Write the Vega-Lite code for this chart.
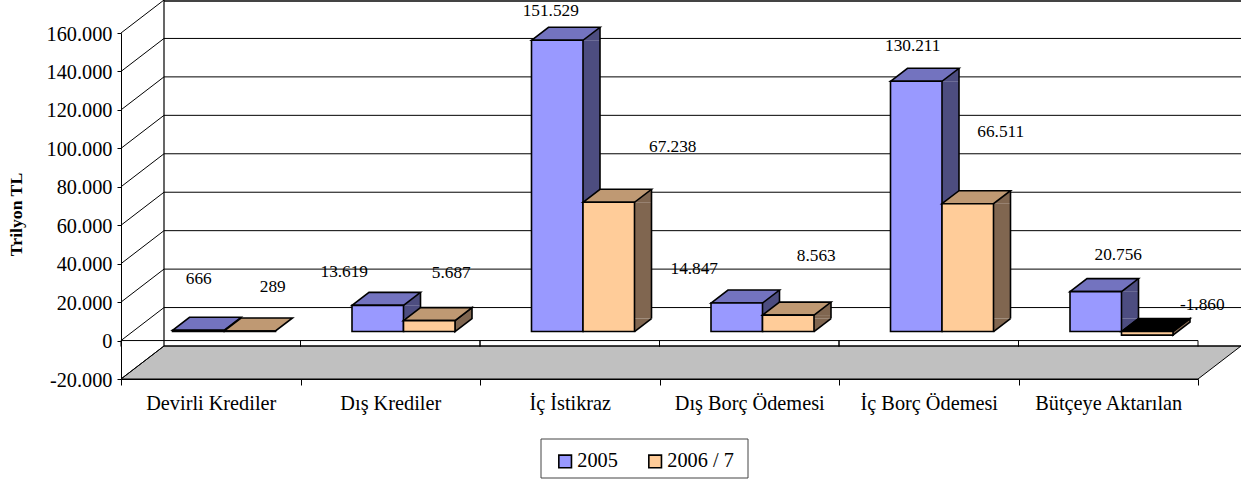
{"$schema":"https://vega.github.io/schema/vega-lite/v6.json","width":1077,"height":346,"autosize":{"type":"none"},"padding":{"left":121,"top":33,"right":46,"bottom":102},"background":"white",
"config":{"locale":{"number":{"decimal":",","thousands":".","grouping":[3],"currency":["",""],"minus":"-"}},"view":{"stroke":null},"text":{"font":"Liberation Serif"}},
"datasets":{"bars":[
{"cat":"Devirli Krediler","series":"2005","value":666},{"cat":"Devirli Krediler","series":"2006 / 7","value":289},
{"cat":"Dış Krediler","series":"2005","value":13619},{"cat":"Dış Krediler","series":"2006 / 7","value":5687},
{"cat":"İç İstikraz","series":"2005","value":151529},{"cat":"İç İstikraz","series":"2006 / 7","value":67238},
{"cat":"Dış Borç Ödemesi","series":"2005","value":14847},{"cat":"Dış Borç Ödemesi","series":"2006 / 7","value":8563},
{"cat":"İç Borç Ödemesi","series":"2005","value":130211},{"cat":"İç Borç Ödemesi","series":"2006 / 7","value":66511},
{"cat":"Bütçeye Aktarılan","series":"2005","value":20756},{"cat":"Bütçeye Aktarılan","series":"2006 / 7","value":-1860}],
"grid":[{"v":-20000},{"v":0},{"v":20000},{"v":40000},{"v":60000},{"v":80000},{"v":100000},{"v":120000},{"v":140000},{"v":160000}]},
"encoding":{
"x":{"field":"cat","type":"nominal","sort":null,"scale":{"domain":["Devirli Krediler","Dış Krediler","İç İstikraz","Dış Borç Ödemesi","İç Borç Ödemesi","Bütçeye Aktarılan"],"paddingInner":0,"paddingOuter":0},"axis":{"title":null,"labelAngle":0,"labelFont":"Liberation Serif","labelFontSize":20.3,"labelColor":"#000","tickColor":"#000","domainColor":"#000","tickSize":6,"tickBand":"extent","labelPadding":8,"grid":false}},
"y":{"field":"value","type":"quantitative","scale":{"domain":[-20000,160000],"nice":false,"zero":false},"axis":{"title":"Trilyon TL","titleFont":"Liberation Serif","titleFontSize":17.7,"titleFontWeight":"bold","titleColor":"#000","titleX":-96,"titleY":181,"values":[-20000,0,20000,40000,60000,80000,100000,120000,140000,160000],"format":",d","labelFont":"Liberation Serif","labelFontSize":20.3,"labelColor":"#000","labelOffset":1,"tickColor":"#000","domainColor":"#000","tickSize":4,"labelPadding":5,"grid":false}}
},
"layer":[
{"data":{"values":[{"cat":"Devirli Krediler","value":-20000}]},"mark":{"type":"point","shape":"M330.25,60L537.25,60L537.25,99L330.25,99Z","size":4,"filled":true,"fill":"#fff","stroke":"#444","strokeWidth":1,"opacity":1}},
{"data":{"values":[{"cat":"Devirli Krediler","value":-20000}]},"mark":{"type":"point","shape":"M-89.75,0L987.25,0L1030.25,-33L-46.75,-33Z","size":4,"filled":true,"fill":"#C0C0C0","stroke":"#000","strokeWidth":1,"opacity":1}},
{"data":{"name":"grid"},"mark":{"type":"point","shape":"M-89.75,0L-46.75,-33L1030.25,-33","size":4,"filled":false,"stroke":"#000","strokeWidth":1,"opacity":1},"encoding":{"x":{"datum":"Devirli Krediler"},"y":{"field":"v","type":"quantitative"}}},
{"data":{"name":"grid"},"transform":[{"filter":"datum.v==160000"}],"mark":{"type":"point","shape":"M-46.75,-33L1030.25,-33","size":4,"filled":false,"stroke":"#444","strokeWidth":4,"opacity":1},"encoding":{"x":{"datum":"Devirli Krediler"},"y":{"field":"v","type":"quantitative"}}},
{"data":{"values":[{"cat":"Devirli Krediler","value":-20000}]},"mark":{"type":"point","shape":"M-46.75,-33V-379","size":4,"filled":false,"stroke":"#000","strokeWidth":1.2,"opacity":1}},
{"data":{"values":[{"cat":"Devirli Krediler","value":0}]},"mark":{"type":"point","shape":"M-89.75,0L987.25,0","size":4,"filled":false,"stroke":"#000","strokeWidth":1,"opacity":1}},
{"data":{"name":"bars"},"transform":[{"filter":"datum.series=='2005'"}],"mark":{"type":"point","shape":"M-89.75,0V6M89.75,0V6","size":4,"filled":false,"stroke":"#000","strokeWidth":1,"opacity":1},"encoding":{"y":{"datum":0}}},

{"data":{"name":"bars"},"transform":[{"filter":"datum.series=='2005' && datum.value>=6770"}],"mark":{"type":"rule","strokeWidth":17,"color":"#4D4D80","xOffset":21.75,"yOffset":-9,"y2Offset":-22},"encoding":{"y2":{"datum":0}}},
{"data":{"name":"bars"},"transform":[{"filter":"datum.series=='2005' && datum.value>=6770"}],"mark":{"type":"point","shape":"M25.75,0L42.75,-13L42.75,0Z","size":4,"filled":true,"fill":"#4D4D80","opacity":1,"xOffset":-12.5,"yOffset":-9}},
{"data":{"name":"bars"},"transform":[{"filter":"datum.series=='2005' && datum.value>=6770"}],"mark":{"type":"point","shape":"M25.75,0L25.75,-13L42.75,-13Z","size":4,"filled":true,"fill":"#4D4D80","opacity":1,"xOffset":-12.5,"yOffset":-9},"encoding":{"y":{"datum":0}}},
{"data":{"name":"bars"},"transform":[{"filter":"datum.series=='2005' && datum.value>=6770"}],"mark":{"type":"rule","strokeWidth":1.6,"color":"#000","xOffset":30.25,"yOffset":-22,"y2Offset":-22},"encoding":{"y2":{"datum":0}}},
{"data":{"name":"bars"},"transform":[{"filter":"datum.series=='2005'"}],"mark":{"type":"point","shape":"M25.75,0L42.75,-13","size":4,"filled":false,"stroke":"#000","strokeWidth":1.6,"opacity":1,"xOffset":-12.5,"yOffset":-9},"encoding":{"y":{"datum":0}}},
{"data":{"name":"bars"},"transform":[{"filter":"datum.series=='2005'"}],"mark":{"type":"point","shape":"M-25.75,0L-8.75,-13L42.75,-13L25.75,0Z","size":4,"filled":true,"fill":"#7373BF","stroke":"#000","strokeWidth":1.6,"opacity":1,"xOffset":-12.5,"yOffset":-9}},
{"data":{"name":"bars"},"transform":[{"filter":"datum.series=='2005'"}],"mark":{"type":"bar","width":51.5,"stroke":"#000","strokeWidth":1.6,"xOffset":-12.5,"yOffset":-9,"y2Offset":-9},"encoding":{"y2":{"datum":0},"fill":{"field":"series","type":"nominal","scale":{"domain":["2005","2006 / 7"],"range":["#9999FF","#FFCC99"]},"legend":{"title":null,"orient":"none","legendX":434,"legendY":418,"direction":"horizontal","columns":2,"columnPadding":27,"symbolType":"square","symbolSize":160,"symbolStrokeColor":"#000","symbolStrokeWidth":1.6,"labelFont":"Liberation Serif","labelFontSize":20.3,"labelColor":"#000","labelOffset":2,"padding":0,"symbolOpacity":1}}}},

{"data":{"name":"bars"},"transform":[{"filter":"datum.series=='2006 / 7' && datum.value>=6770"}],"mark":{"type":"rule","strokeWidth":17,"color":"#806650","xOffset":73.25,"yOffset":-9,"y2Offset":-22},"encoding":{"y2":{"datum":0}}},
{"data":{"name":"bars"},"transform":[{"filter":"datum.series=='2006 / 7' && datum.value>=6770"}],"mark":{"type":"point","shape":"M25.75,0L42.75,-13L42.75,0Z","size":4,"filled":true,"fill":"#806650","opacity":1,"xOffset":39,"yOffset":-9}},
{"data":{"name":"bars"},"transform":[{"filter":"datum.series=='2006 / 7' && datum.value>=6770"}],"mark":{"type":"point","shape":"M25.75,0L25.75,-13L42.75,-13Z","size":4,"filled":true,"fill":"#806650","opacity":1,"xOffset":39,"yOffset":-9},"encoding":{"y":{"datum":0}}},
{"data":{"name":"bars"},"transform":[{"filter":"datum.series=='2006 / 7' && datum.value>=6770"}],"mark":{"type":"rule","strokeWidth":1.6,"color":"#000","xOffset":81.75,"yOffset":-22,"y2Offset":-22},"encoding":{"y2":{"datum":0}}},
{"data":{"name":"bars"},"transform":[{"filter":"datum.series=='2006 / 7' && datum.value>=6770"}],"mark":{"type":"point","shape":"M25.75,0L42.75,-13","size":4,"filled":false,"stroke":"#000","strokeWidth":1.6,"opacity":1,"xOffset":39,"yOffset":-9},"encoding":{"y":{"datum":0}}},
{"data":{"name":"bars"},"transform":[{"filter":"datum.value==5687"}],"mark":{"type":"point","shape":"M25.75,0L42.75,-13L42.75,-24L25.75,-11Z","size":4,"filled":true,"fill":"#806650","stroke":"#000","strokeWidth":1.6,"opacity":1,"xOffset":39,"yOffset":-9},"encoding":{"y":{"datum":0}}},
{"data":{"name":"bars"},"transform":[{"filter":"datum.value==-1860"}],"mark":{"type":"point","shape":"M25.75,3.5L42.75,-9.5L42.75,-13L25.75,0Z","size":4,"filled":true,"fill":"#806650","stroke":"#000","strokeWidth":1.6,"opacity":1,"xOffset":39,"yOffset":-9},"encoding":{"y":{"datum":0}}},
{"data":{"name":"bars"},"transform":[{"filter":"datum.series=='2006 / 7' && datum.value>0"}],"mark":{"type":"point","shape":"M-25.75,0L-8.75,-13L42.75,-13L25.75,0Z","size":4,"filled":true,"fill":"#BF9973","stroke":"#000","strokeWidth":1.6,"opacity":1,"xOffset":39,"yOffset":-9}},
{"data":{"name":"bars"},"transform":[{"filter":"datum.value<0"}],"mark":{"type":"point","shape":"M-25.75,0L-8.75,-13L42.75,-13L25.75,0Z","size":4,"filled":true,"fill":"#000","stroke":"#000","strokeWidth":1.6,"opacity":1,"xOffset":39,"yOffset":-9},"encoding":{"y":{"datum":0}}},
{"data":{"name":"bars"},"transform":[{"filter":"datum.series=='2006 / 7'"}],"mark":{"type":"bar","width":51.5,"stroke":"#000","strokeWidth":1.6,"xOffset":39,"yOffset":-9,"y2Offset":-9},"encoding":{"y2":{"datum":0},"fill":{"field":"series","type":"nominal"}}},

{"data":{"name":"bars"},"transform":[{"filter":"datum.value==666"}],"mark":{"type":"text","fontSize":17.3,"baseline":"middle","dx":-12,"dy":-60},"encoding":{"text":{"field":"value","type":"quantitative","format":",d"}}},
{"data":{"name":"bars"},"transform":[{"filter":"datum.value==289"}],"mark":{"type":"text","fontSize":17.3,"baseline":"middle","dx":62,"dy":-53},"encoding":{"text":{"field":"value","type":"quantitative","format":",d"}}},
{"data":{"name":"bars"},"transform":[{"filter":"datum.value==13619"}],"mark":{"type":"text","fontSize":17.3,"baseline":"middle","dx":-46,"dy":-42},"encoding":{"text":{"field":"value","type":"quantitative","format":",d"}}},
{"data":{"name":"bars"},"transform":[{"filter":"datum.value==5687"}],"mark":{"type":"text","fontSize":17.3,"baseline":"middle","dx":61,"dy":-57},"encoding":{"text":{"field":"value","type":"quantitative","format":",d"}}},
{"data":{"name":"bars"},"transform":[{"filter":"datum.value==151529"}],"mark":{"type":"text","fontSize":17.3,"baseline":"middle","dx":-19,"dy":-38},"encoding":{"text":{"field":"value","type":"quantitative","format":",d"}}},
{"data":{"name":"bars"},"transform":[{"filter":"datum.value==67238"}],"mark":{"type":"text","fontSize":17.3,"baseline":"middle","dx":103,"dy":-64},"encoding":{"text":{"field":"value","type":"quantitative","format":",d"}}},
{"data":{"name":"bars"},"transform":[{"filter":"datum.value==14847"}],"mark":{"type":"text","fontSize":17.3,"baseline":"middle","dx":-55,"dy":-43.5},"encoding":{"text":{"field":"value","type":"quantitative","format":",d"}}},
{"data":{"name":"bars"},"transform":[{"filter":"datum.value==8563"}],"mark":{"type":"text","fontSize":17.3,"baseline":"middle","dx":67,"dy":-67.6},"encoding":{"text":{"field":"value","type":"quantitative","format":",d"}}},
{"data":{"name":"bars"},"transform":[{"filter":"datum.value==130211"}],"mark":{"type":"text","fontSize":17.3,"baseline":"middle","dx":-16,"dy":-44},"encoding":{"text":{"field":"value","type":"quantitative","format":",d"}}},
{"data":{"name":"bars"},"transform":[{"filter":"datum.value==66511"}],"mark":{"type":"text","fontSize":17.3,"baseline":"middle","dx":72,"dy":-81},"encoding":{"text":{"field":"value","type":"quantitative","format":",d"}}},
{"data":{"name":"bars"},"transform":[{"filter":"datum.value==20756"}],"mark":{"type":"text","fontSize":17.3,"baseline":"middle","dx":10,"dy":-46},"encoding":{"text":{"field":"value","type":"quantitative","format":",d"}}},
{"data":{"name":"bars"},"transform":[{"filter":"datum.value==-1860"}],"mark":{"type":"text","fontSize":17.3,"baseline":"middle","dx":94,"dy":-39.6},"encoding":{"text":{"field":"value","type":"quantitative","format":",d"}}}
]}
